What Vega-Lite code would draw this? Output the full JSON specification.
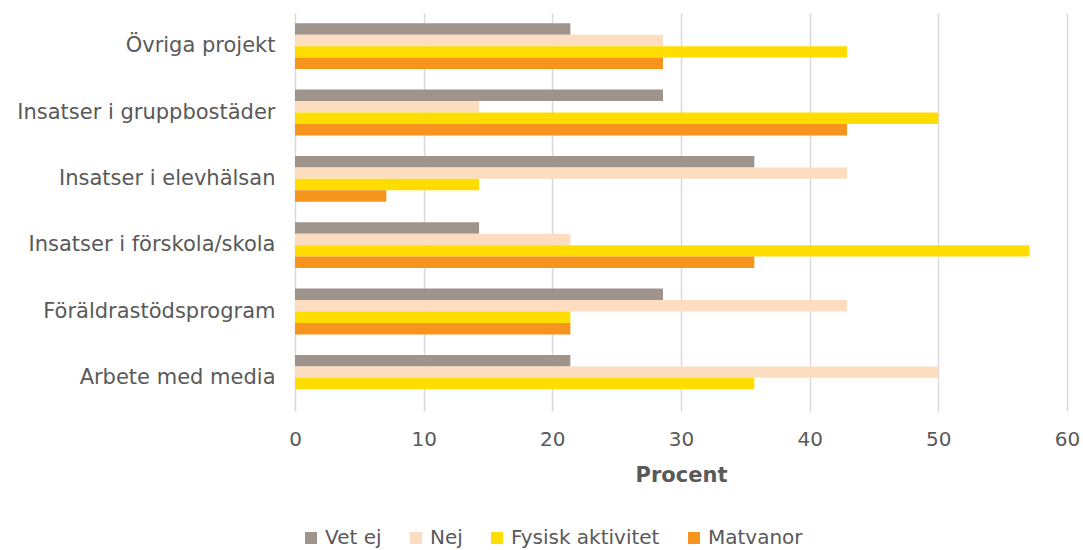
{
  "$schema": "https://vega.github.io/schema/vega-lite/v6.json",
  "autosize": "none",
  "width": 772,
  "height": 398,
  "padding": {"left": 295, "top": 13, "right": 16, "bottom": 139},
  "config": {
    "view": {"stroke": null},
    "font": "DejaVu Sans",
    "text": {"font": "DejaVu Sans"}
  },
  "data": {
    "values": [
      {"kategori": "Övriga projekt", "serie": "Vet ej", "procent": 21.4},
      {"kategori": "Övriga projekt", "serie": "Nej", "procent": 28.6},
      {"kategori": "Övriga projekt", "serie": "Fysisk aktivitet", "procent": 42.9},
      {"kategori": "Övriga projekt", "serie": "Matvanor", "procent": 28.6},
      {"kategori": "Insatser i gruppbostäder", "serie": "Vet ej", "procent": 28.6},
      {"kategori": "Insatser i gruppbostäder", "serie": "Nej", "procent": 14.3},
      {"kategori": "Insatser i gruppbostäder", "serie": "Fysisk aktivitet", "procent": 50.0},
      {"kategori": "Insatser i gruppbostäder", "serie": "Matvanor", "procent": 42.9},
      {"kategori": "Insatser i elevhälsan", "serie": "Vet ej", "procent": 35.7},
      {"kategori": "Insatser i elevhälsan", "serie": "Nej", "procent": 42.9},
      {"kategori": "Insatser i elevhälsan", "serie": "Fysisk aktivitet", "procent": 14.3},
      {"kategori": "Insatser i elevhälsan", "serie": "Matvanor", "procent": 7.1},
      {"kategori": "Insatser i förskola/skola", "serie": "Vet ej", "procent": 14.3},
      {"kategori": "Insatser i förskola/skola", "serie": "Nej", "procent": 21.4},
      {"kategori": "Insatser i förskola/skola", "serie": "Fysisk aktivitet", "procent": 57.1},
      {"kategori": "Insatser i förskola/skola", "serie": "Matvanor", "procent": 35.7},
      {"kategori": "Föräldrastödsprogram", "serie": "Vet ej", "procent": 28.6},
      {"kategori": "Föräldrastödsprogram", "serie": "Nej", "procent": 42.9},
      {"kategori": "Föräldrastödsprogram", "serie": "Fysisk aktivitet", "procent": 21.4},
      {"kategori": "Föräldrastödsprogram", "serie": "Matvanor", "procent": 21.4},
      {"kategori": "Arbete med media", "serie": "Vet ej", "procent": 21.4},
      {"kategori": "Arbete med media", "serie": "Nej", "procent": 50.0},
      {"kategori": "Arbete med media", "serie": "Fysisk aktivitet", "procent": 35.7},
      {"kategori": "Arbete med media", "serie": "Matvanor", "procent": 0}
    ]
  },
  "mark": {"type": "bar"},
  "encoding": {
    "y": {
      "field": "kategori",
      "type": "nominal",
      "sort": ["Övriga projekt", "Insatser i gruppbostäder", "Insatser i elevhälsan", "Insatser i förskola/skola", "Föräldrastödsprogram", "Arbete med media"],
      "scale": {"paddingInner": 0.31, "paddingOuter": 0.155},
      "axis": {
        "title": null,
        "domain": false,
        "ticks": false,
        "labelPadding": 20,
        "labelLimit": 300,
        "labelFontSize": 21,
        "labelColor": "#595959",
        "labelFont": "DejaVu Sans",
        "labelFontWeight": "normal"
      }
    },
    "yOffset": {
      "field": "serie",
      "type": "nominal",
      "sort": ["Vet ej", "Nej", "Fysisk aktivitet", "Matvanor"],
      "scale": {"paddingInner": 0, "paddingOuter": 0}
    },
    "x": {
      "field": "procent",
      "type": "quantitative",
      "scale": {"domain": [0, 60], "nice": false},
      "axis": {
        "title": "Procent",
        "titleFontSize": 21,
        "titleFontWeight": "bold",
        "titleColor": "#595959",
        "titleFont": "DejaVu Sans",
        "titlePadding": 15,
        "values": [0, 10, 20, 30, 40, 50, 60],
        "domain": false,
        "ticks": false,
        "grid": true,
        "gridColor": "#D9D9D9",
        "gridWidth": 1.5,
        "labelFlush": false,
        "labelPadding": 18,
        "labelFontSize": 20,
        "labelColor": "#595959",
        "labelFont": "DejaVu Sans"
      }
    },
    "color": {
      "field": "serie",
      "type": "nominal",
      "sort": ["Vet ej", "Nej", "Fysisk aktivitet", "Matvanor"],
      "scale": {
        "domain": ["Vet ej", "Nej", "Fysisk aktivitet", "Matvanor"],
        "range": ["#9F948B", "#FDDDC0", "#FFDD00", "#F7941D"]
      },
      "legend": {
        "title": null,
        "orient": "none",
        "legendX": 6,
        "legendY": 515,
        "direction": "horizontal",
        "symbolType": "square",
        "symbolSize": 144,
        "symbolStrokeWidth": 0,
        "labelFontSize": 20,
        "labelColor": "#595959",
        "labelFont": "DejaVu Sans",
        "columnPadding": 24,
        "labelOffset": 4
      }
    }
  }
}
